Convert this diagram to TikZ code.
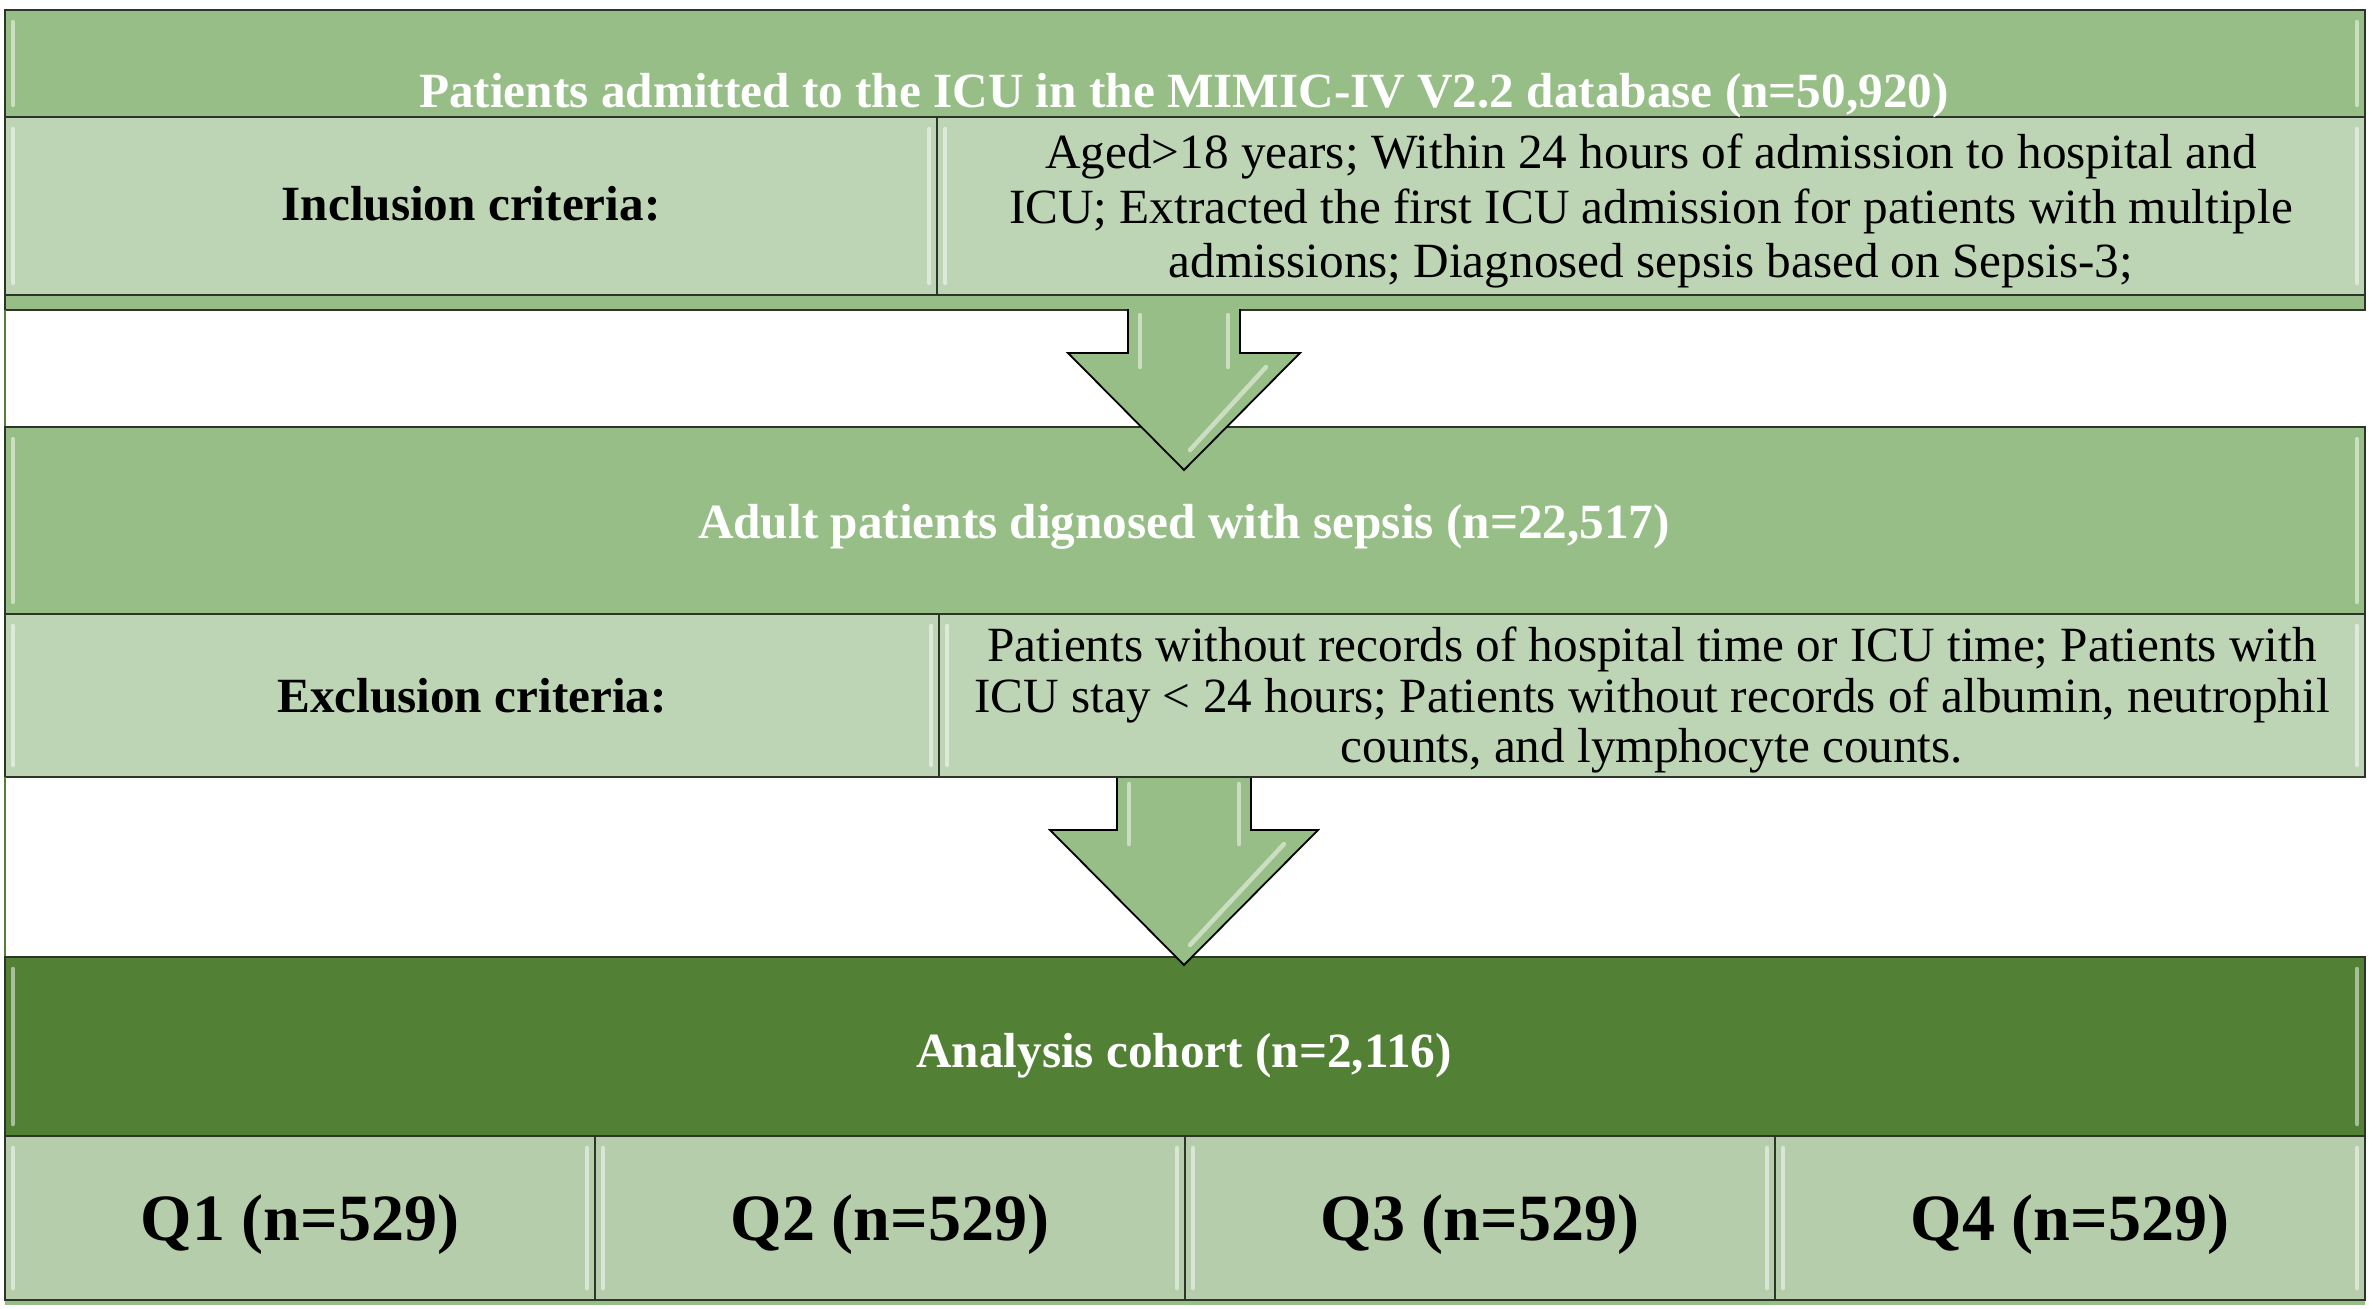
\documentclass[tikz,border=0pt]{standalone}
\usepackage{fontspec}
\setmainfont{Liberation Serif}
\usetikzlibrary{calc}
\definecolor{midgreen}{RGB}{151,190,134}
\definecolor{lightgreen}{RGB}{189,213,180}
\definecolor{qgreen}{RGB}{182,205,172}
\definecolor{darkgreen}{RGB}{82,128,52}
\definecolor{rimline}{RGB}{45,52,40}
\def\cellbox(#1,#2)(#3,#4)#5{\draw[rowline, fill=#5] (#1,#2) rectangle (#3,#4);
	\draw[gloss] ({#1+8},{#2+12}) -- ({#1+8},{#4-12});
	\draw[gloss] ({#3-8},{#2+12}) -- ({#3-8},{#4-12});}
\def\flowarrow(#1)(#2:#3:#4:#5:#6){\draw[arrowline] ({#1-#3},#2) -- ({#1-#3},#4) -- ({#1-#5},#4) -- (#1,#6) -- ({#1+#5},#4) -- ({#1+#3},#4) -- ({#1+#3},#2);
	\draw[gloss] ({#1-#3+12},{#2+6}) -- ({#1-#3+12},{#4+14});
	\draw[gloss] ({#1+#3-12},{#2+6}) -- ({#1+#3-12},{#4+14});
	\draw[gloss] ({#1+#5-34},{#4+14}) -- ({#1+6},{#6-20});}

\begin{document}
\begin{tikzpicture}[x=0.01cm, y=-0.01cm,
		rowline/.style={line width=0.02cm, color=rimline},
		arrowline/.style={line width=0.018cm, color=black, fill=midgreen},
		gloss/.style={line width=0.045cm, color=white, opacity=0.5, line cap=round},
		boldtext/.style={font=\fontsize{14}{16}\selectfont\bfseries, inner sep=0pt, anchor=base},
		bodytext/.style={font=\fontsize{14}{#1}\selectfont, align=center, inner sep=0pt}]
		%%%%% START %%%%%
		\useasboundingbox (0,0) rectangle (2369,1309);
		
		% first block
		\cellbox(5,10)(2365,117){midgreen}
		\cellbox(5,117)(937,295){lightgreen}
		\cellbox(937,117)(2365,295){lightgreen}
		\draw[rowline, fill=midgreen] (5,295) rectangle (2365,310);
		\draw[rowline, color=darkgreen] (5,310) -- (5,427);
		
		\node[boldtext, text=white] (admitted) at (1184,107) {Patients admitted to the ICU in the MIMIC-IV V2.2 database (n=50,920)};
		\node[boldtext] (inclusion) at (471,220) {Inclusion criteria:};
		\node[bodytext=15.4pt] (inclusionlist) at (1651,211) {Aged>18 years; Within 24 hours of admission to hospital and\\ICU; Extracted the first ICU admission for patients with multiple\\admissions; Diagnosed sepsis based on Sepsis-3;};
		
		% second block
		\cellbox(5,427)(2365,614){midgreen}
		\cellbox(5,614)(939,777){lightgreen}
		\cellbox(939,614)(2365,777){lightgreen}
		\draw[rowline, color=darkgreen] (5,777) -- (5,957);
		
		\node[boldtext, text=white] (sepsis) at (1184,538) {Adult patients dignosed with sepsis (n=22,517)};
		\node[boldtext] (exclusion) at (472,712) {Exclusion criteria:};
		\node[bodytext=14.3pt] (exclusionlist) at (1652,700) {Patients without records of hospital time or ICU time; Patients with\\ICU stay < 24 hours; Patients without records of albumin, neutrophil\\counts, and lymphocyte counts.};
		
		% third block
		\cellbox(5,957)(2365,1136){darkgreen}
		\foreach \q in {0,...,3}
			\cellbox({5+590*\q},1136)({595+590*\q},1300){qgreen}
		\draw[fill=midgreen, draw=none] (5,1301) rectangle (2365,1305);
		
		\node[boldtext, text=white] (cohort) at (1184,1067) {Analysis cohort (n=2,116)};
		\foreach \q in {1,...,4}
			\node[boldtext, font=\fontsize{18.8}{20}\selectfont\bfseries] (quartile\q) at ({-290+590*\q},1240) {Q\q{} (n=529)};
		
		% arrows
		\flowarrow(1184)(309:56:353:116:470)
		\flowarrow(1184)(778:67:830:134:965)
		
		%%%%% END %%%%%
\end{tikzpicture}
\end{document}
